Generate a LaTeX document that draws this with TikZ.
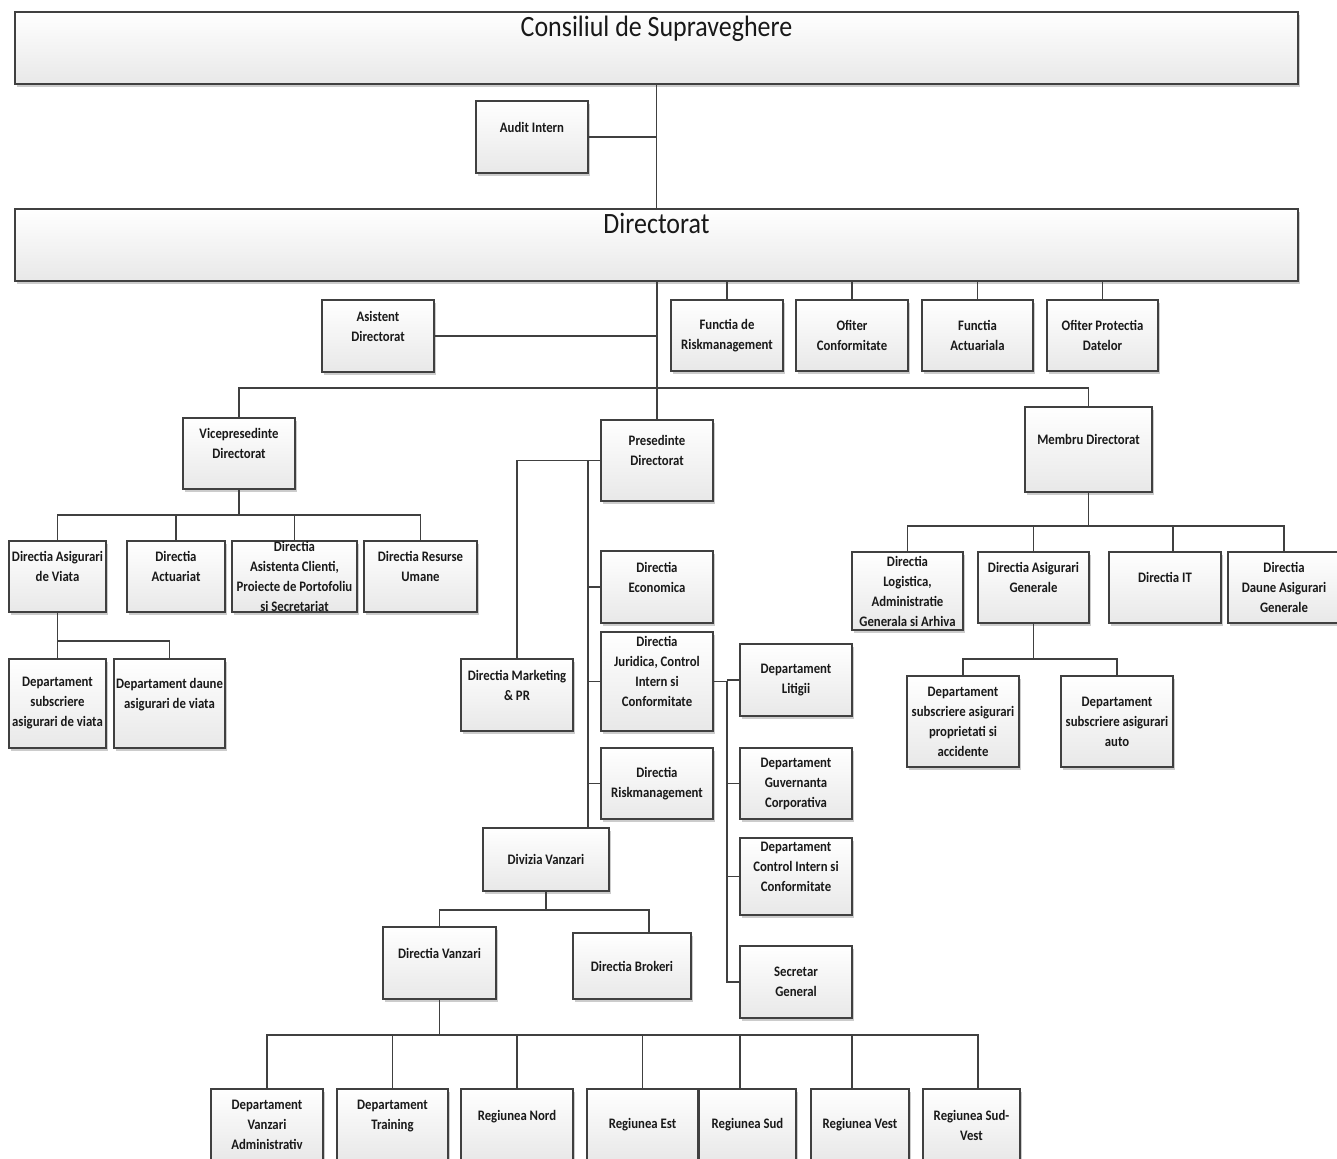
\documentclass[tikz,border=0pt]{standalone}
\usepackage{fontspec}
\setmainfont{Carlito}[FakeStretch=0.88]
\usetikzlibrary{shadows}

\tikzset{
  box/.style={draw=black!75, line width=0.9pt, top color=white, bottom color=black!9,
    drop shadow={shadow xshift=1.2pt, shadow yshift=-1.6pt, fill=black!25, opacity=0.8},
    minimum width=56pt, minimum height=36pt, inner sep=0pt, align=center,
    font=\fontsize{7.25pt}{10pt}\selectfont\bfseries, text=black!90},
  head/.style={box, font=\fontsize{14.75pt}{18pt}\selectfont},
  wh/.style 2 args={minimum width=#1*0.5pt, minimum height=#2*0.5pt},
  link/.style={draw=black!75, line width=0.9pt},
}

\begin{document}
\begin{tikzpicture}[x=0.5pt,y=-0.5pt]
 \useasboundingbox (0,0) rectangle (1337,1158);

 % board and directorate
 \node[head,wh={1283}{72}] (cons)  at (656.5,48)  {Consiliul de Supraveghere\\[4pt]\mbox{}};
 \node[box]                (audit) at (532,137)   {Audit Intern\\\mbox{}};
 \node[head,wh={1283}{72}] (dir)   at (656.5,245) {Directorat\\[4pt]\mbox{}};

 \draw[link] (cons.south) -- (dir.north);
 \draw[link] (audit.east) -- (audit.east -| cons.south);

 % staff functions
 \node[box]                (asist)  at (378,336)      {Asistent\\Directorat\\\mbox{}};
 \node[box,wh={112}{71}]   (frisk)  at (727,335.5)    {Functia de\\Riskmanagement};
 \node[box,wh={112}{71}]   (ofconf) at (852,335.5)    {Ofiter\\Conformitate};
 \node[box,wh={111}{71}]   (fact)   at (977.5,335.5)  {Functia\\Actuariala};
 \node[box,wh={111}{71}]   (ofprot) at (1102.5,335.5) {Ofiter Protectia\\Datelor};

 \draw[link] (asist.east) -- (asist.east -| dir.south);
 \foreach \n in {frisk,ofconf,fact,ofprot}
   \draw[link] (\n.north) -- (\n.north |- dir.south);

 % board members
 \coordinate (busA) at (0,388);
 \node[box,wh={112}{71}] (vice)   at (239,453.5)    {Vicepresedinte\\Directorat\\\mbox{}};
 \node[box,wh={112}{81}] (pres)   at (657,460.5)    {Presedinte\\Directorat\\\mbox{}};
 \node[box,wh={127}{85}] (membru) at (1088.5,449.5) {Membru Directorat\\\mbox{}};

 \draw[link] (dir.south -| pres.north) -- (pres.north);
 \draw[link] (vice.north) |- (busA -| membru.north) -- (membru.north);

 % vicepresedinte
 \coordinate (busB) at (0,515);
 \node[box,wh={97}{71}]  (dav)    at (57.5,576.5)  {Directia Asigurari\\de Viata\\\mbox{}};
 \node[box,wh={98}{71}]  (dact)   at (176,576.5)   {Directia\\Actuariat\\\mbox{}};
 \node[box,wh={125}{71}] (dasist) at (294.5,576.5) {Directia\\Asistenta Clienti,\\Proiecte de Portofoliu\\si Secretariat};
 \node[box,wh={113}{71}] (drum)   at (420.5,576.5) {Directia Resurse\\Umane\\\mbox{}};

 \draw[link] (vice.south) -- (vice.south |- busB);
 \draw[link] (dav.north) |- (busB -| drum.north) -- (drum.north);
 \foreach \n in {dact,dasist}
   \draw[link] (\n.north) -- (\n.north |- busB);

 \coordinate (busC) at (0,641);
 \node[box,wh={97}{89}]  (dsub)   at (57.5,703.5)  {Departament\\subscriere\\asigurari de viata};
 \node[box,wh={111}{89}] (ddaune) at (169.5,703.5) {Departament daune\\asigurari de viata\\\mbox{}};

 \draw[link] (dav.south) -- (dav.south |- busC) -| (ddaune.north);
 \draw[link] (dsub.north) -- (dsub.north |- busC);

 % presedinte
 \coordinate (spine) at (588,0);
 \node[box]              (mkt)  at (517,695)   {Directia Marketing\\\& PR\\\mbox{}};
 \node[box]              (econ) at (657,587)   {Directia\\Economica\\\mbox{}};
 \node[box,wh={112}{99}] (jur)  at (657,681.5) {Directia\\Juridica, Control\\Intern si\\Conformitate\\\mbox{}};
 \node[box,wh={112}{71}] (rskm) at (657,783.5) {Directia\\Riskmanagement};
 \node[box,wh={126}{63}] (divv) at (546,859.5) {Divizia Vanzari};

 \draw[link] (pres.west) -| (mkt.north);
 \draw[link] (pres.west -| spine) -- (divv.north -| spine);
 \foreach \n in {econ,jur,rskm}
   \draw[link] (\n.west) -- (\n.west -| spine);

 \coordinate (spineB) at (727,0);
 \node[box]              (litigii) at (796,680)   {Departament\\Litigii};
 \node[box,wh={112}{71}] (guv)     at (796,783.5) {Departament\\Guvernanta\\Corporativa};
 \node[box,wh={112}{77}] (ctrl)    at (796,876.5) {Departament\\Control Intern si\\Conformitate\\\mbox{}};
 \node[box]              (secr)    at (796,982)   {Secretar\\General};

 \draw[link] (jur.east) -- (jur.east -| spineB) -- (secr.west -| spineB) -- (secr.west);
 \foreach \n in {litigii,guv,ctrl}
   \draw[link] (\n.west) -- (\n.west -| spineB);

 % sales
 \coordinate (busD) at (0,910);
 \node[box,wh={113}{72}] (dvanz) at (439.5,963) {Directia Vanzari\\\mbox{}};
 \node[box,wh={118}{66}] (dbrok) at (632,966)   {Directia Brokeri};
 \coordinate (brokin) at ([xshift=8.5pt]dbrok.north);

 \draw[link] (divv.south) -- (divv.south |- busD);
 \draw[link] (dvanz.north) |- (busD -| brokin) -- (brokin);

 \coordinate (busE) at (0,1035);
 \node[box,wh={112}{72}] (b1) at (267,1125)   {Departament\\Vanzari\\Administrativ};
 \node[box,wh={111}{72}] (b2) at (392.5,1125) {Departament\\Training\\\mbox{}};
 \node[box,wh={112}{72}] (b3) at (517,1125)   {Regiunea Nord\\\mbox{}};
 \node[box,wh={111}{72}] (b4) at (642.5,1125) {Regiunea Est};
 \node[box,wh={97}{72}]  (b5) at (747.5,1125) {Regiunea Sud};
 \node[box,wh={98}{72}]  (b6) at (860,1125)   {Regiunea Vest};
 \node[box,wh={97}{72}]  (b7) at (971.5,1125) {Regiunea Sud-\\Vest};
 \coordinate (b5in) at ([xshift=-3.75pt]b5.north);
 \coordinate (b6in) at ([xshift=-4pt]b6.north);
 \coordinate (b7in) at ([xshift=3.25pt]b7.north);

 \draw[link] (dvanz.south) -- (dvanz.south |- busE);
 \draw[link] (b1.north) |- (busE -| b7in) -- (b7in);
 \foreach \n in {b2.north,b3.north,b4.north,b5in,b6in}
   \draw[link] (\n) -- (\n |- busE);

 % membru directorat
 \coordinate (busF) at (0,526);
 \node[box,wh={111}{78}] (dlog) at (907.5,591)  {Directia\\Logistica,\\Administratie\\Generala si Arhiva};
 \node[box,wh={111}{71}] (dag)  at (1033.5,587.5) {Directia Asigurari\\Generale\\\mbox{}};
 \node[box,wh={112}{71}] (dit)  at (1165,587.5)   {Directia IT\\\mbox{}};
 \node[box,wh={112}{71}] (ddag) at (1284,587.5)   {Directia\\Daune Asigurari\\Generale};
 \coordinate (ditin) at ([xshift=4pt]dit.north);

 \draw[link] (membru.south) -- (membru.south |- busF);
 \draw[link] (dlog.north) |- (busF -| ddag.north) -- (ddag.north);
 \draw[link] (dag.north) -- (dag.north |- busF);
 \draw[link] (ditin) -- (ditin |- busF);

 \coordinate (busG) at (0,659);
 \node[box,wh={112}{91}] (dprop) at (963,721.5)  {Departament\\subscriere asigurari\\proprietati si\\accidente};
 \node[box,wh={112}{91}] (dauto) at (1117,721.5) {Departament\\subscriere asigurari\\auto};

 \draw[link] (dag.south) -- (dag.south |- busG);
 \draw[link] (dprop.north) |- (busG -| dauto.north) -- (dauto.north);
\end{tikzpicture}
\end{document}
